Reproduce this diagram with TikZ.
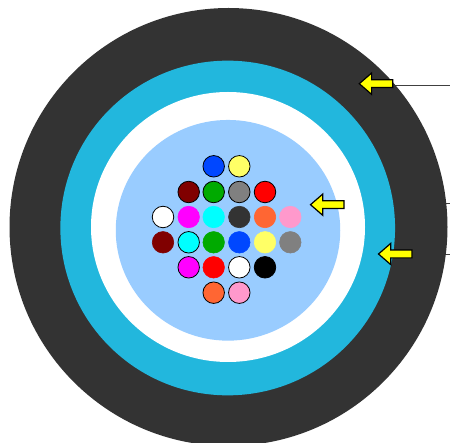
\documentclass[tikz,border=0pt]{standalone}
\usetikzlibrary{shapes.arrows,shapes.geometric}
\definecolor{ringdark}{HTML}{333333}
\definecolor{ringteal}{HTML}{22B7DD}
\definecolor{corefill}{HTML}{99CCFF}
\definecolor{fblue}{HTML}{0047FF}
\definecolor{fyellow}{HTML}{FFFF66}
\definecolor{fmaroon}{HTML}{800000}
\definecolor{fgreen}{HTML}{00AA00}
\definecolor{fgray}{HTML}{808080}
\definecolor{forange}{HTML}{FF6633}
\definecolor{fpink}{HTML}{FF99CC}
\definecolor{fdark}{HTML}{333333}
\definecolor{fcyan}{HTML}{00FFFF}
\definecolor{fmagenta}{HTML}{FF00FF}
\definecolor{fyel}{HTML}{FFFF00}
\tikzset{
  ringdisc/.style={ellipse,inner sep=0pt,outer sep=0pt,draw=none},
  fiber/.style={circle,inner sep=0pt,outer sep=0pt,minimum size=21.5pt,fill=#1,draw=#1,line width=.6pt},
  fiberline/.style={circle,inner sep=0pt,outer sep=0pt,minimum size=21.5pt,fill=#1,draw=black,line width=.8pt},
  pointer/.style={single arrow,shape border rotate=180,draw=black,fill=fyel,line width=1.2pt,
    inner xsep=0pt,inner ysep=3.3pt,outer sep=0pt,minimum height=33.5pt,minimum width=20pt,
    single arrow head extend=6.8pt,single arrow tip angle=82,single arrow head indent=0pt},
  leader/.style={draw=black!75,line width=.8pt}
}
\begin{document}
\begin{tikzpicture}[x=1pt,y=-1pt]
\useasboundingbox (0,0) rectangle (450,443);
\clip (0,0) rectangle (450,443);
\fill[white] (0,0) rectangle (450,443);
% leader lines, hidden by the outer ring where they pass behind it
\coordinate (l1s) at (394,85.3);   \coordinate (l1e) at (450,85.3);
\coordinate (l2s) at (345,203.7);  \coordinate (l2e) at (450,203.7);
\coordinate (l3s) at (413,254);    \coordinate (l3e) at (450,254);
\draw[leader] (l1s) -- (l1e);
\draw[leader] (l2s) -- (l2e);
\draw[leader] (l3s) -- (l3e);
% rings
\node[ringdisc,fill=ringdark,minimum width=438pt,minimum height=438pt] (jacket) at (228.5,227) {};
\node[ringdisc,fill=ringteal,minimum width=334.7pt,minimum height=334.7pt] (armor) at (227.7,228) {};
\node[ringdisc,fill=white,minimum width=274pt,minimum height=270pt] (buffer) at (228,227) {};
\node[ringdisc,fill=corefill,minimum width=224.5pt,minimum height=220.7pt] (core) at (228,230.3) {};
% fibres
\node[fiberline=fblue] (f11) at (213.7,166.3) {};
\node[fiberline=fyellow] (f12) at (239.3,166.3) {};
\node[fiberline=fmaroon] (f21) at (188.7,192) {};
\node[fiberline=fgreen] (f22) at (213.7,192) {};
\node[fiberline=fgray] (f23) at (239.3,192) {};
\node[fiberline=red] (f24) at (265,192) {};
\node[fiberline=white] (f31) at (163,217) {};
\node[fiber=fmagenta] (f32) at (188.7,217) {};
\node[fiber=fcyan] (f33) at (213.7,217) {};
\node[fiber=fdark] (f34) at (239.3,217) {};
\node[fiber=forange] (f35) at (265,217) {};
\node[fiber=fpink] (f36) at (290.3,217) {};
\node[fiber=fmaroon] (f41) at (163,242.3) {};
\node[fiberline=fcyan] (f42) at (188.7,242.3) {};
\node[fiber=fgreen] (f43) at (213.7,242.3) {};
\node[fiber=fblue] (f44) at (239.3,242.3) {};
\node[fiber=fyellow] (f45) at (265,242.3) {};
\node[fiber=fgray] (f46) at (290.3,242.3) {};
\node[fiberline=fmagenta] (f51) at (188.7,267.3) {};
\node[fiber=red] (f52) at (213.7,267.3) {};
\node[fiberline=white] (f53) at (239.3,267.3) {};
\node[fiberline=black] (f54) at (265,267.3) {};
\node[fiberline=forange] (f61) at (213.7,292.7) {};
\node[fiberline=fpink] (f62) at (239.3,292.7) {};
% pointers
\node[pointer] (a1) at (378.3,83.7) {};
\node[pointer] (a2) at (329.5,204.7) {};
\node[pointer] (a3) at (397.5,254) {};
\end{tikzpicture}
\end{document}
